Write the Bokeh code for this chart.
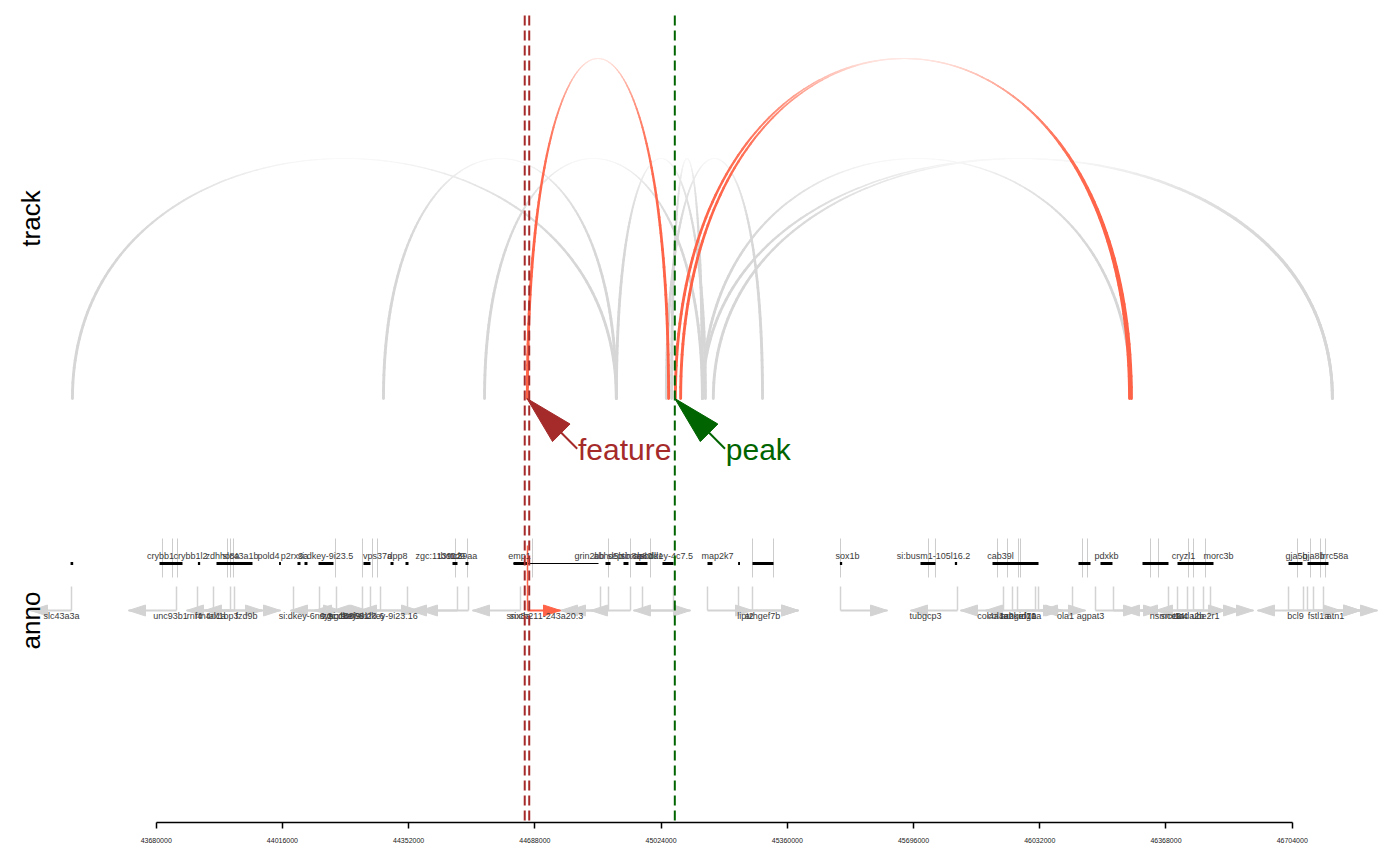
import numpy as np
from bokeh.plotting import figure
from bokeh.models import Range1d, FixedTicker, NumeralTickFormatter, ColumnDataSource
from bokeh.core.properties import value
from bokeh.embed import file_html
from bokeh.resources import INLINE

# ---------------- data ----------------
axis_ticks = [43680000, 44016000, 44352000, 44688000, 45024000,
              45360000, 45696000, 46032000, 46368000, 46704000]

# links (arcs)
link_start = [43457000, 44285000, 44554000, 44905000, 45052000, 45038000,
              45134000, 45134000, 45163000, 44668000, 45062000, 45076000]
link_end = [44905000, 44905000, 45134000, 45142000, 45134000, 45294000,
            46276000, 46811000, 46811000, 45044000, 46276000, 46271000]
link_score = [0.20, 0.20, 0.20, 0.20, 0.20, 0.20,
              0.20, 0.20, 0.20, 0.70, 0.70, 0.70]

# highlighted feature and peak
feature_start = 44661000
feature_end = 44673000
peak_pos = 45060500

# annotation: upper row (gene bodies, tick lines, labels)
up_tick = [43696700, 43723400, 43736700, 43869800, 43877800, 43885700, 44157300,
           44229100, 44255800, 44269100, 44476700, 44508700, 44681700, 44884000,
           44942600, 44995800, 45267300, 45323200, 45501600, 45735800, 45754400,
           45919500, 45946100, 45975400, 45980700, 46145800, 46159100, 46326800,
           46348100, 46428000, 46441300, 46473200, 46718100, 46752700, 46779300,
           46792700]
up_body_start = [43452000, 43688800, 43791000, 43840500, 44007000, 44056100, 44074700,
                 44112000, 44231800, 44303700, 44343600, 44468700, 44503300, 44631100,
                 44876000, 44923900, 44955900, 45027700, 45147500, 45229000, 45267300,
                 45500000, 45714500, 45806000, 45906200, 46135100, 46193700, 46305500,
                 46398700, 46694200, 46744700]
up_body_end = [43459000, 43750000, 43797000, 43936300, 44012000, 44064100, 44082700,
               44151900, 44250400, 44311700, 44351600, 44482000, 44511300, 44668400,
               44889300, 44937200, 44987800, 45057000, 45160800, 45234000, 45323200,
               45506000, 45754400, 45812000, 46028700, 46167100, 46225600, 46374700,
               46494500, 46731400, 46800600]
up_intron_start = [44631100]
up_intron_end = [44857400]
up_label = ["crybb1", "crybb1l2", "zdhhc8a", "slc43a1b", "pold4", "p2rx3a",
            "si:dkey-9i23.5", "vps37a", "dpp8", "zgc:113912", "tbc1d9", "ttc39aa",
            "emp1", "grin2bb", "abhd5b", "septin8a", "sb:cb80", "apcdd1",
            "si:dkey-4c7.5", "map2k7", "sox1b", "si:busm1-105l16.2", "cab39l",
            "pdxkb", "cryzl1", "morc3b", "gja5b", "gja8b", "lrrc58a"]
up_label_pos = [43691400, 43771300, 43856500, 43904400, 43978900, 44048100,
                44130700, 44269100, 44322300, 44431500, 44466100, 44495300,
                44647100, 44833400, 44884000, 44926600, 44958500, 44990500,
                45038400, 45174200, 45520200, 45749100, 45927500,
                46209700, 46414600, 46507800, 46715500, 46760700, 46816600]

# annotation: lower row (TSS bent arrows and labels)
lo_tss = [43454500, 43734000, 43877800, 43888400, 43789900, 43832500, 44045500,
          44114700, 44159900, 44229100, 44250400, 44277100, 44348900, 44482000,
          44511300, 44649700, 44668400, 44862700, 44884000, 44942600, 44974500,
          45057000, 45147500, 45230100, 45267300, 45501600, 45813000, 45935500,
          46020700, 45959400, 45972800, 46028700, 46119200, 46180400, 46228300,
          46374700, 46398700, 46425300, 46441300, 46467900, 46486500, 46694200,
          46734100, 46744700, 46760700, 46787300]
lo_tip = [43345400, 43606200, 43760600, 43808500, 43962900, 44010900, 44170600,
          44242400, 44037500, 44101400, 44378200, 44149300, 44221200, 44354300,
          44383500, 44522000, 44756200, 44756200, 44777500, 44836100, 45102300,
          44950500, 45267300, 45389800, 45389800, 45626700, 45687900, 45821000,
          45887600, 46087200, 46092500, 46153800, 46034000, 46300200, 46353400,
          46252300, 46526400, 46300200, 46566400, 46340100, 46601000, 46832600,
          46611600, 46885800, 46885800, 46931100]
lo_label = ["slc43a3a", "unc93b1", "rnf4", "rtn4rl1a", "tax1bp3", "fzd9b",
            "si:dkey-6n6.2", "syngr1a", "zgc:153681", "srsf9", "si:dkey-9i23.6",
            "si:dkey-9i23.16", "", "", "", "snx8a", "si:ch211-243a20.3", "", "", "",
            "", "", "", "lipt2", "arhgef7b", "", "tubgcp3", "col4a1", "col4a2",
            "arhgef7a", "ankrd10a", "ing1", "ola1", "agpat3", "", "nsmce2", "snx14",
            "ttc4", "tada2b", "", "ube2r1", "bcl9", "", "fstl1a", "atn1", ""]
lo_label_pos = [43428000, 43718000, 43781900, 43824500, 43856500, 43920400,
                44077400, 44157300, 44183900, 44197200, 44213200, 44295700,
                0, 0, 0, 44644400, 44719000, 0, 0, 0, 0, 0, 0, 45248700, 45293900,
                0, 45727900, 45900900, 45927500, 45975400, 45986100, 45999400,
                46100500, 46167100, 0, 46366700, 46385400, 46406700, 46433300, 0,
                46473200, 46712800, 0, 46774000, 46819300, 0]

# ---------------- layout ----------------
PAD = 8
FW, FH = 1384, 814
BORDER_B = 35
W, H = FW + PAD, FH + PAD + BORDER_B
X0, X1 = 43286800, 46971000
Y0, Y1 = -424, 390
ppx = FW / (X1 - X0)
ppy = FH / (Y1 - Y0)
FONT = "Liberation Sans"
ARC_UNIT = 200.0

p = figure(width=W, height=H, x_range=Range1d(X0, X1), y_range=Range1d(Y0, Y1),
           output_backend="svg", toolbar_location=None, y_axis_location=None,
           min_border_left=PAD, min_border_right=0, min_border_top=PAD,
           min_border_bottom=BORDER_B)
p.outline_line_color = None
p.grid.visible = False
p.background_fill_color = "white"
p.border_fill_color = "white"

ax = p.xaxis[0]
ax.ticker = FixedTicker(ticks=axis_ticks)
ax.formatter = NumeralTickFormatter(format="0")
ax.bounds = (axis_ticks[0], axis_ticks[-1])
ax.axis_line_width = 1.5
ax.axis_line_color = "black"
ax.major_tick_out = 6
ax.major_tick_in = 0
ax.major_tick_line_width = 1.5
ax.major_tick_line_color = "black"
ax.minor_tick_line_color = None
ax.major_label_text_font = FONT
ax.major_label_text_font_size = "7px"
ax.major_label_text_color = "#222222"
ax.major_label_standoff = 9

# ---------------- arcs ----------------
GRAY = (214, 214, 214)
TOMATO = (255, 99, 71)


def mix(c1, c2, t):
    return tuple(c1[i] + (c2[i] - c1[i]) * t for i in range(3))


def hexc(c):
    return "#%02x%02x%02x" % tuple(int(round(v)) for v in c)


seg = dict(x0=[], y0=[], x1=[], y1=[], w=[], c=[])
order = sorted(range(len(link_start)), key=lambda i: link_score[i])
for i in order:
    a, b, s = link_start[i], link_end[i], link_score[i]
    h = ARC_UNIT * (1 + s)
    base = mix(GRAY, TOMATO, min(max((s - 0.2) / 0.5, 0.0), 1.0))
    t = np.linspace(0, 1, 121)
    xs = (1 - t) ** 3 * a + 3 * t * (1 - t) ** 2 * a + 3 * t ** 2 * (1 - t) * b + t ** 3 * b
    ys = 4 * t * (1 - t) * h
    for j in range(len(t) - 1):
        f = (ys[j] + ys[j + 1]) / 2 / h
        seg["x0"].append(xs[j]); seg["y0"].append(ys[j])
        seg["x1"].append(xs[j + 1]); seg["y1"].append(ys[j + 1])
        seg["w"].append(2.9 - 1.8 * f ** 3)
        seg["c"].append(hexc(mix(base, (255, 255, 255), 0.85 * f ** 7)))

p.segment(x0="x0", y0="y0", x1="x1", y1="y1", line_width="w", line_color="c",
          line_cap="round", source=ColumnDataSource(seg))

# ---------------- annotation track ----------------
LGRAY = "#d3d3d3"
UP_TICK_TOP, UP_TICK_BOT = -140, -179
UP_BODY_Y = -165
UP_LABEL_Y = -157.5
LO_TOP, LO_Y = -188, -212
LO_LABEL_Y = -217.8

p.segment(x0=up_tick, y0=[UP_TICK_TOP] * len(up_tick), x1=up_tick,
          y1=[UP_TICK_BOT] * len(up_tick), line_color="#cccccc", line_width=1)
p.segment(x0=up_intron_start, y0=[UP_BODY_Y], x1=up_intron_end, y1=[UP_BODY_Y],
          line_color="black", line_width=1.2)
p.segment(x0=up_body_start, y0=[UP_BODY_Y] * len(up_body_start), x1=up_body_end,
          y1=[UP_BODY_Y] * len(up_body_start), line_color="black", line_width=3)

tomato_hex = hexc(TOMATO)
lo_col = [tomato_hex if feature_start <= t_ <= feature_end else LGRAY for t_ in lo_tss]
gray_idx = [i for i in range(len(lo_tss)) if lo_col[i] == LGRAY]
red_idx = [i for i in range(len(lo_tss)) if lo_col[i] != LGRAY]

HEAD_L, HEAD_HW = 17, 5.5


def draw_bent(idx, colour, top):
    xs_h, ys_h = [], []
    for i in idx:
        d = 1 if lo_tip[i] > lo_tss[i] else -1
        bx = lo_tip[i] - d * HEAD_L / ppx
        xs_h.append([lo_tip[i], bx, bx])
        ys_h.append([LO_Y, LO_Y + HEAD_HW / ppy, LO_Y - HEAD_HW / ppy])
    tss = [lo_tss[i] for i in idx]
    tip = [lo_tip[i] for i in idx]
    p.segment(x0=tss, y0=[top] * len(idx), x1=tss, y1=[LO_Y] * len(idx),
              line_color=colour, line_width=1.5)
    p.segment(x0=tss, y0=[LO_Y] * len(idx), x1=tip, y1=[LO_Y] * len(idx),
              line_color=colour, line_width=2)
    p.patches(xs=xs_h, ys=ys_h, fill_color=colour, line_color=colour, line_width=1)


draw_bent(gray_idx, LGRAY, LO_TOP)
draw_bent(red_idx, tomato_hex, -147)

p.text(x=up_label_pos, y=[UP_LABEL_Y] * len(up_label), text=up_label,
       text_font=value(FONT), text_font_size="9px", text_color="#3a3a3a",
       text_align="center", text_baseline="alphabetic")
lab_i = [i for i in range(len(lo_label)) if lo_label[i]]
p.text(x=[lo_label_pos[i] for i in lab_i], y=[LO_LABEL_Y] * len(lab_i),
       text=[lo_label[i] for i in lab_i],
       text_font=value(FONT), text_font_size="9px", text_color="#3a3a3a",
       text_align="center", text_baseline="alphabetic")

# ---------------- highlight lines ----------------
LINE_TOP = 383
BROWN = "#a52a2a"
DGREEN = "#006400"
p.segment(x0=[feature_start, feature_end], y0=[LINE_TOP, LINE_TOP],
          x1=[feature_start, feature_end], y1=[Y0, Y0],
          line_color=BROWN, line_width=2, line_dash="10 5")
p.segment(x0=[peak_pos], y0=[LINE_TOP], x1=[peak_pos], y1=[Y0],
          line_color=DGREEN, line_width=2, line_dash="10 5")


# ---------------- pointer arrows with labels ----------------
def pointer(tip_x, colour, label):
    ux, uy = np.sqrt(0.5), np.sqrt(0.5)  # screen direction: right / down
    vx, vy = -uy, ux
    hl, hw, sl = 48.5, 12.4, 71
    bx, by = ux * hl, uy * hl
    pts = [(0, 0), (bx + vx * hw, by + vy * hw), (bx - vx * hw, by - vy * hw)]
    p.patch(x=[tip_x + q[0] / ppx for q in pts], y=[0 - q[1] / ppy for q in pts],
            fill_color=colour, line_color=colour, line_width=1)
    p.segment(x0=[tip_x + bx / ppx], y0=[-by / ppy],
              x1=[tip_x + ux * sl / ppx], y1=[-uy * sl / ppy],
              line_color=colour, line_width=2)
    p.text(x=[tip_x + 51 / ppx], y=[-51 / ppy], text=[label],
           text_font=value(FONT), text_font_size="30px", text_color=colour,
           text_align="left", text_baseline="alphabetic")


pointer((feature_start + feature_end) / 2, BROWN, "feature")
pointer(peak_pos, DGREEN, "peak")

# ---------------- panel titles ----------------
title_x = X0 + 22 / ppx
p.text(x=[title_x, title_x], y=[180, -222], text=["track", "anno"], angle=np.pi / 2,
       text_font=value(FONT), text_font_size="26px", text_color="black",
       text_align="center", text_baseline="middle")

open("out.html", "w").write(file_html(p, INLINE))
